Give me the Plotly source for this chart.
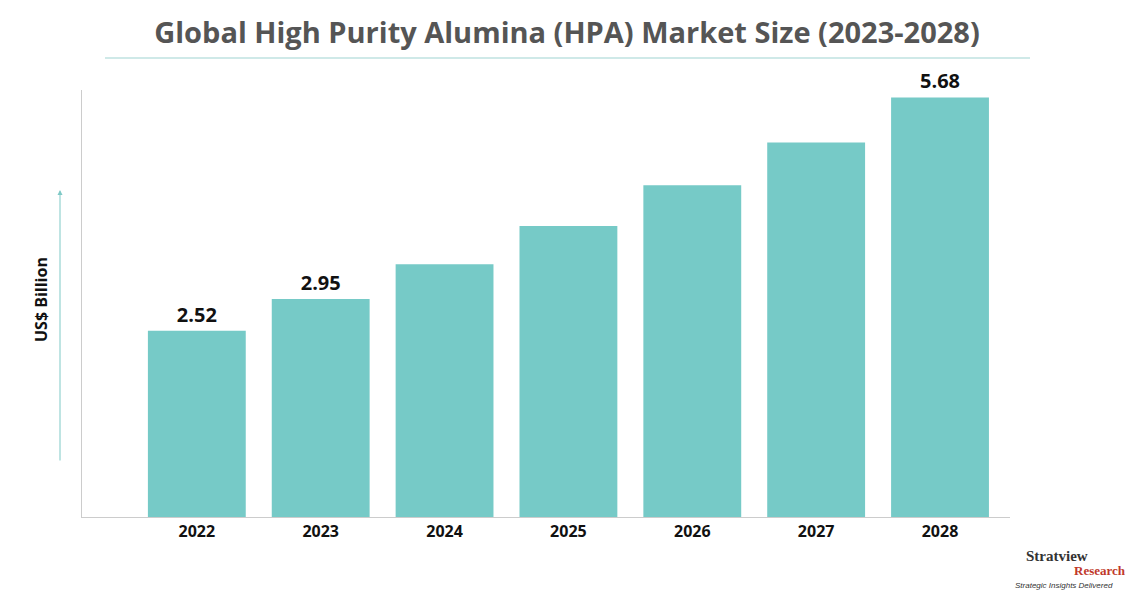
import plotly.graph_objects as go

years = ["2022", "2023", "2024", "2025", "2026", "2027", "2028"]
values = [2.52, 2.95, 3.42, 3.94, 4.49, 5.07, 5.68]
labels = ["<b>2.52</b>", "<b>2.95</b>", "", "", "", "", "<b>5.68</b>"]

W, H = 1135, 597
d = 8
fig = go.Figure(go.Bar(
    x=list(range(len(years))), y=values, width=0.79,
    marker=dict(color="#76cac7", line=dict(width=0)),
    text=labels, textposition="outside", cliponaxis=False,
    textfont=dict(family="Open Sans", size=20, color="#111"),
))
fig.update_layout(
    width=W, height=H, plot_bgcolor="white", paper_bgcolor="white",
    margin=dict(l=82-d, r=W-1010+d, t=90-d, b=H-517+d),
    showlegend=False,
    title=dict(text="<b>Global High Purity Alumina (HPA) Market Size (2023-2028)</b>",
               x=(567-d)/W, xanchor="center", y=1-(33-d)/H, yanchor="middle",
               font=dict(family="Open Sans", size=29, color="#555")),
    xaxis=dict(range=[-0.927, 6.565], tickvals=list(range(len(years))),
               ticktext=["<b>%s</b>" % y for y in years], showline=True,
               linecolor="#ccc", linewidth=1, showgrid=False, zeroline=False,
               ticks="", tickfont=dict(family="Open Sans", size=16, color="#111")),
    yaxis=dict(range=[0, 5.78], showticklabels=False, showgrid=False, zeroline=False,
               showline=True, linecolor="#ccc", linewidth=1, ticks=""),
    shapes=[dict(type="line", xref="paper", yref="paper", x0=(105-82)/928, x1=(1030-82)/928,
                 y0=(517-58)/427, y1=(517-58)/427, line=dict(color="#9fd3d1", width=1))],
    annotations=[
        dict(text="<b>US$ Billion</b>", textangle=-90, xref="paper", yref="paper",
             x=(28-82)/928, y=(517-300)/427, showarrow=False,
             font=dict(family="Open Sans", size=16, color="#111")),
        dict(x=(60-82)/928, y=(517-190)/427, ax=0, ay=272,
             xref="paper", yref="paper", axref="pixel", ayref="pixel", text="",
             showarrow=True, arrowhead=2, arrowsize=1, arrowwidth=1, arrowcolor="#7fc9c6"),
        dict(text="<b>Stratview</b>", xref="paper", yref="paper", x=(1090-82)/928, y=(517-566)/427,
             showarrow=False, font=dict(family="Liberation Serif", size=15, color="#333")),
        dict(text="<b>Research</b>", xref="paper", yref="paper", x=(1128-82)/928, y=(517-580)/427,
             showarrow=False, font=dict(family="Liberation Serif", size=13, color="#c0392b")),
        dict(text="<i>Strategic Insights Delivered</i>", xref="paper", yref="paper", x=(1115-82)/928,
             y=(517-592)/427, showarrow=False, font=dict(family="Liberation Sans", size=8, color="#333")),
    ],
)
fig.write_html("out.html")
